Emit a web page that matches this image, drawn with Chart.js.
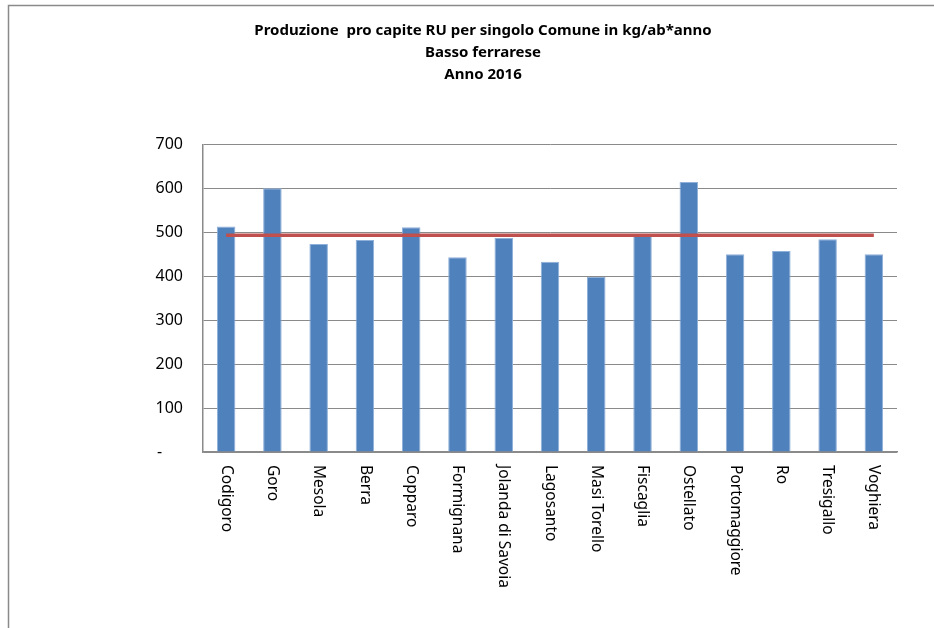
<!DOCTYPE html>
<html>
<head>
<meta charset="utf-8">
<script src="https://cdn.jsdelivr.net/npm/chart.js@4"></script>
<style>
  html, body { margin: 0; padding: 0; background: #fff; overflow: hidden; }
  #rifiuti { display: block; }
</style>
</head>
<body>
<canvas id="rifiuti" width="934" height="628"></canvas>
<script>
const comuni = ["Codigoro", "Goro", "Mesola", "Berra", "Copparo", "Formignana", "Jolanda di Savoia",
  "Lagosanto", "Masi Torello", "Fiscaglia", "Ostellato", "Portomaggiore", "Ro", "Tresigallo", "Voghiera"];
const proCapite = [513, 600, 473, 482, 511, 443, 487, 433, 398, 494, 614, 450, 457, 484, 450];
const mediaBasso = [493, 493, 493, 493, 493, 493, 493, 493, 493, 493, 493, 493, 493, 493, 493];
const titolo = ["Produzione  pro capite RU per singolo Comune in kg/ab*anno", "Basso ferrarese", "Anno 2016"];

const fontBase = "'Noto Sans', 'Open Sans', sans-serif";

// sfondo bianco + cornice (solo bordo sinistro e superiore visibili)
const cornice = {
  id: "cornice",
  beforeDraw(chart) {
    const c = chart.ctx;
    c.save();
    c.fillStyle = "#fff";
    c.fillRect(0, 0, chart.width, chart.height);
    c.strokeStyle = "#8a8a8a";
    c.lineWidth = 1.5;
    c.beginPath();
    c.moveTo(8.5, chart.height);
    c.lineTo(8.5, 5.5);
    c.lineTo(chart.width, 5.5);
    c.stroke();
    c.restore();
  }
};

// etichette categorie ruotate in senso orario (lettura dall'alto verso il basso)
const etichetteVerticali = {
  id: "etichetteVerticali",
  afterDraw(chart) {
    const x = chart.scales.x;
    const c = chart.ctx;
    c.save();
    c.font = "15.5px " + fontBase;
    c.fillStyle = "#000";
    c.textAlign = "left";
    c.textBaseline = "middle";
    comuni.forEach((nome, i) => {
      c.save();
      c.translate(x.getPixelForTick(i), x.top + 13);
      c.rotate(Math.PI / 2);
      c.fillText(nome, 0, 0);
      c.restore();
    });
    c.restore();
  }
};

new Chart(document.getElementById("rifiuti"), {
  type: "bar",
  data: {
    labels: comuni,
    datasets: [
      {
        type: "line",
        label: "media",
        data: mediaBasso,
        borderColor: "#C0504D",
        borderWidth: 3.5,
        pointRadius: 0,
        fill: false,
        order: 0,
      },
      {
        label: "kg/ab*anno",
        data: proCapite,
        backgroundColor: "#4F81BD",
        borderColor: "#8fb0d9",
        borderWidth: 1,
        barPercentage: 0.4,
        categoryPercentage: 1,
        order: 1,
      },
    ],
  },
  options: {
    responsive: false,
    animation: false,
    devicePixelRatio: 1,
    layout: { padding: { left: 69, right: 37, top: 0, bottom: 0 } },
    plugins: {
      legend: { display: false },
      tooltip: { enabled: false },
      title: {
        display: true,
        text: titolo,
        color: "#000",
        font: { family: fontBase, size: 15, weight: "bold", lineHeight: 1.45 },
        padding: { top: 20, bottom: 59 },
      },
    },
    scales: {
      x: {
        grid: { display: false, drawTicks: false },
        border: { display: true, color: "#8a8a8a", width: 1.5 },
        ticks: { color: "rgba(0,0,0,0)", maxRotation: 90, minRotation: 90, autoSkip: false },
        afterFit(scale) { scale.height = 176; },
      },
      y: {
        min: 0,
        max: 700,
        grid: { color: "#8a8a8a", lineWidth: 1, drawTicks: false },
        border: { display: true, color: "#8a8a8a", width: 1.5 },
        ticks: {
          stepSize: 100,
          padding: 20,
          color: "#000",
          font: { family: fontBase, size: 16 },
          callback: (v) => (v === 0 ? "-     " : v),
        },
        afterFit(scale) { scale.width = 134; },
      },
    },
  },
  plugins: [cornice, etichetteVerticali],
});
</script>
</body>
</html>
